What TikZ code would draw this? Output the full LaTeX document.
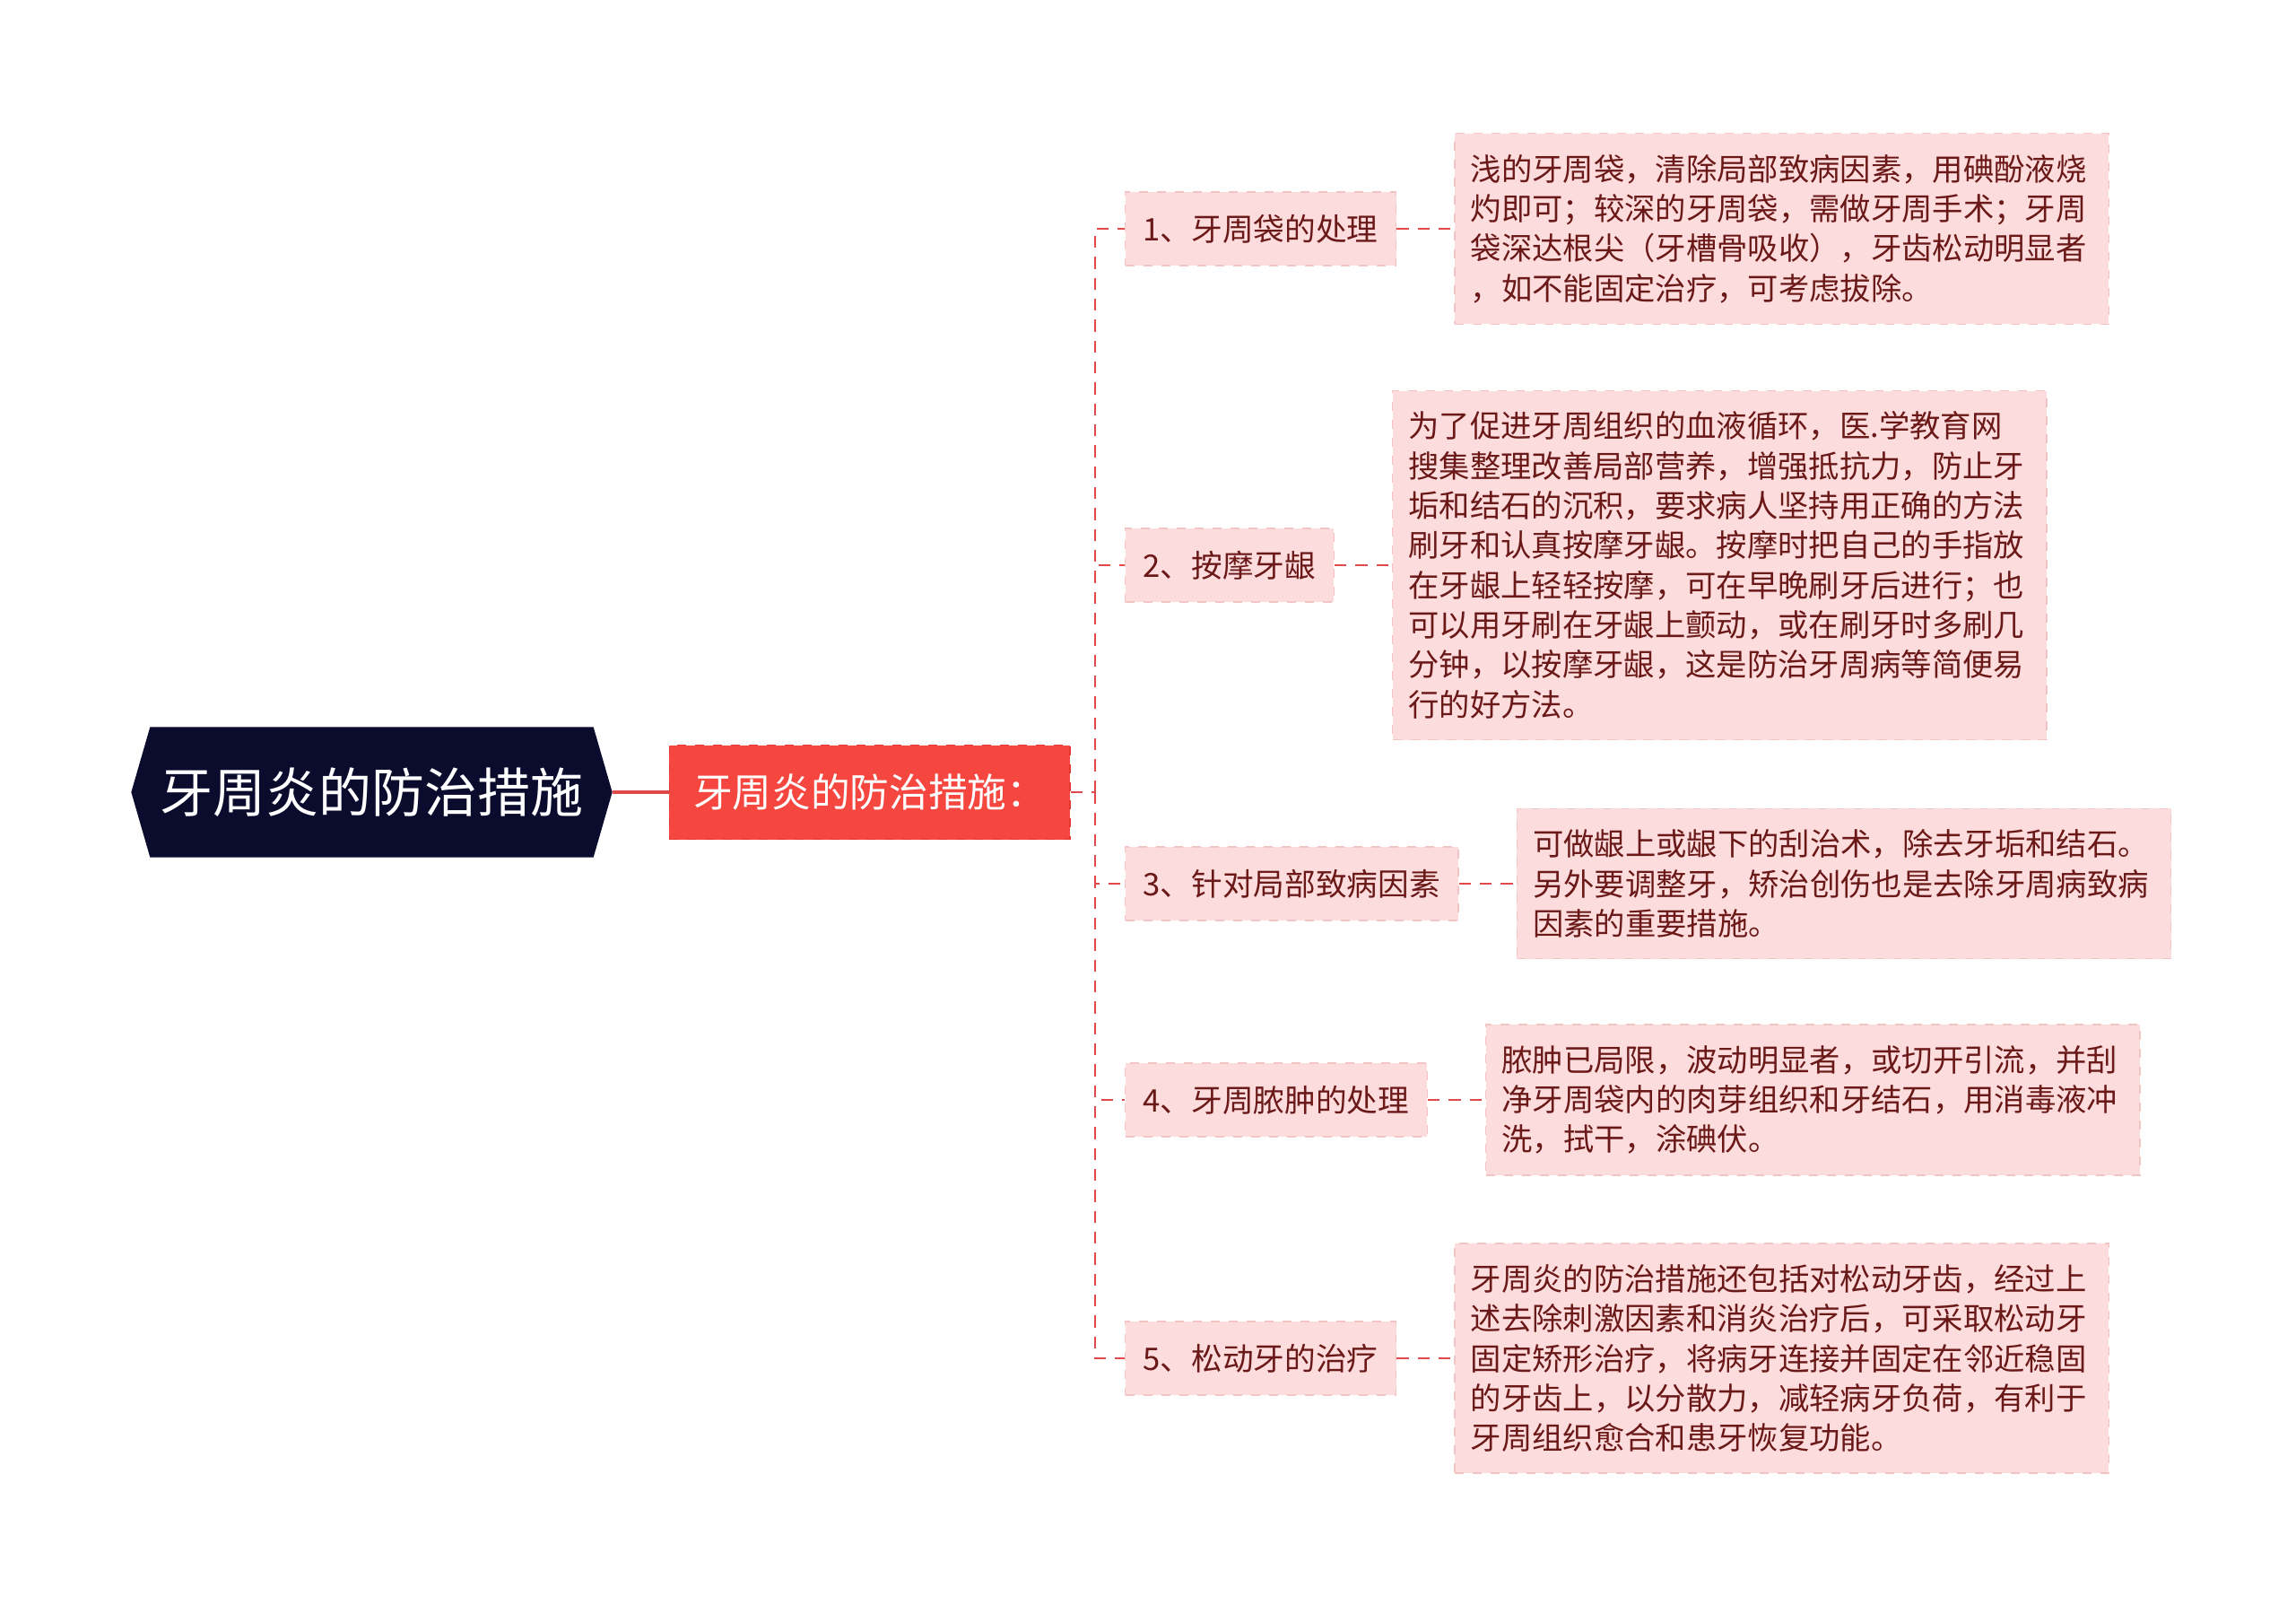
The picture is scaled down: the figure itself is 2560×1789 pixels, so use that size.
\documentclass[tikz,border=0pt]{standalone}
\usepackage{fontspec}
\setmainfont{Noto Sans CJK SC}
\usetikzlibrary{positioning,backgrounds}
\definecolor{rootblue}{HTML}{0B0B2E}
\definecolor{mainred}{HTML}{F5473F}
\definecolor{mainedge}{HTML}{E03A32}
\definecolor{linered}{HTML}{E0484A}
\definecolor{leafpink}{HTML}{FCDCDC}
\definecolor{leafedge}{HTML}{F2C4C4}
\definecolor{leaftext}{HTML}{6A1818}
\tikzset{
    linkline/.style = {draw = linered, line width = .6pt, dash pattern = on 4pt off 3pt},
    rootnode/.style = {text = white, font = \fontsize{17.7}{20}\selectfont, minimum width = 147.9pt, minimum height = 43.2pt, inner sep = 0pt},
    mainnode/.style = {fill = mainred, draw = mainedge, dashed, text = white, font = \fontsize{13.1}{15}\selectfont, minimum width = 134pt, minimum height = 31.5pt, inner sep = 0pt},
    branchnode/.style = {fill = leafpink, draw = leafedge, dashed, text = leaftext, font = \fontsize{10.4}{12}\selectfont, inner xsep = 6pt, minimum height = 24.6pt, anchor = west},
    leafnode/.style = {branchnode, text width = 208pt, align = left, inner xsep = 5.4pt, inner ysep = 7pt, font = \fontsize{10.3}{13.3}\selectfont}
}
\begin{document}
\begin{tikzpicture}[x = .3pt, y = -.3pt]
            \useasboundingbox (0, 0) rectangle (2560, 1789);

            \node[rootnode] (root) at (414.5, 883) {牙周炎的防治措施};
            \begin{scope}[on background layer]
                \fill[rootblue] (root.north west) -- (root.north east) -- ([xshift = 6.3pt]root.east) -- (root.south east) -- (root.south west) -- ([xshift = -6.3pt]root.west) -- cycle;
            \end{scope}
            \coordinate (roottip) at ([xshift = 6.3pt]root.east);

            \node[mainnode, right = 18.9pt of roottip] (main) {牙周炎的防治措施：};
            \draw[linered, line width = 1pt] (roottip) -- (main);

            \coordinate (trunk) at (1221, 883);
            \draw[linkline] (main.east) -- (trunk);

            \foreach \yy/\btext/\ltext [count = \ii] in {
                255/{1、牙周袋的处理}/{浅的牙周袋，清除局部致病因素，用碘酚液烧\\灼即可；较深的牙周袋，需做牙周手术；牙周\\袋深达根尖（牙槽骨吸收），牙齿松动明显者\\，如不能固定治疗，可考虑拔除。},
                630/{2、按摩牙龈}/{为了促进牙周组织的血液循环，医.学教育网\\搜集整理改善局部营养，增强抵抗力，防止牙\\垢和结石的沉积，要求病人坚持用正确的方法\\刷牙和认真按摩牙龈。按摩时把自己的手指放\\在牙龈上轻轻按摩，可在早晚刷牙后进行；也\\可以用牙刷在牙龈上颤动，或在刷牙时多刷几\\分钟，以按摩牙龈，这是防治牙周病等简便易\\行的好方法。},
                985/{3、针对局部致病因素}/{可做龈上或龈下的刮治术，除去牙垢和结石。\\另外要调整牙，矫治创伤也是去除牙周病致病\\因素的重要措施。},
                1226/{4、牙周脓肿的处理}/{脓肿已局限，波动明显者，或切开引流，并刮\\净牙周袋内的肉芽组织和牙结石，用消毒液冲\\洗，拭干，涂碘伏。},
                1514/{5、松动牙的治疗}/{牙周炎的防治措施还包括对松动牙齿，经过上\\述去除刺激因素和消炎治疗后，可采取松动牙\\固定矫形治疗，将病牙连接并固定在邻近稳固\\的牙齿上，以分散力，减轻病牙负荷，有利于\\牙周组织愈合和患牙恢复功能。}}
                {
                    \node[branchnode] (branch\ii) at (1254, \yy) {\btext};
                    \node[leafnode, right = 19.2pt of branch\ii] (leaf\ii) {\ltext};
                    \draw[linkline] (trunk) |- (branch\ii);
                    \draw[linkline] (branch\ii) -- (leaf\ii);
                }
        \end{tikzpicture}
\end{document}
